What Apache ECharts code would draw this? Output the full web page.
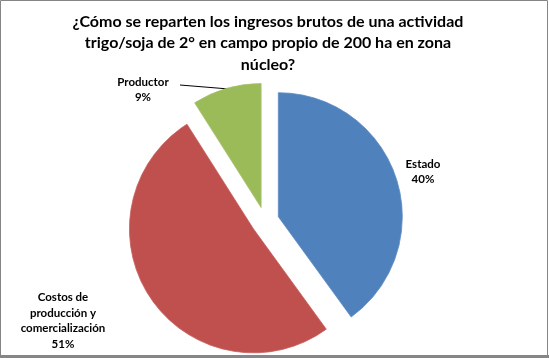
<!DOCTYPE html>
<html><head><meta charset="utf-8">
<script src="https://cdn.jsdelivr.net/npm/echarts@6/dist/echarts.min.js"></script>
<style>html,body{margin:0;padding:0;background:#fff}#c{width:549px;height:358px}</style>
</head><body><div id="c"></div>
<script>
const categories = ['Estado', 'Costos de producción y comercialización', 'Productor'];
const labelTexts = ['Estado', 'Costos de\nproducción y\ncomercialización', 'Productor'];
const values = [40, 51, 9];
const colors = ['#4F81BD', '#C0504D', '#9BBB59'];
const titleText = '¿Cómo se reparten los ingresos brutos de una actividad\ntrigo/soja de 2° en campo propio de 200 ha en zona\nnúcleo?';

const labelPos = [[423, 172], [63, 321], [143, 90]];
const labelFont = {fontFamily: 'Lato', fontWeight: 'bold', fontSize: 11.5, lineHeight: 15.5, fill: '#000', textAlign: 'center', textVerticalAlign: 'middle'};

const chart = echarts.init(document.getElementById('c'));
const graphics = [
  {type: 'rect', shape: {x: 0.5, y: 0.5, width: 547, height: 355}, style: {fill: 'none', stroke: '#858585', lineWidth: 1}, z: 100},
  {type: 'rect', shape: {x: 0, y: 355, width: 549, height: 3}, style: {fill: '#868686'}, z: 100},
  {type: 'text', x: 268, y: 43, style: {text: titleText, fontFamily: 'Lato', fontWeight: 'bold', fontSize: 16, lineHeight: 21.5, fill: '#000', textAlign: 'center', textVerticalAlign: 'middle'}},
  {type: 'polyline', shape: {points: [[180, 85], [229, 89]]}, style: {stroke: '#000', lineWidth: 1, fill: 'none'}}
];
values.forEach((v, i) => {
  graphics.push({type: 'text', x: labelPos[i][0], y: labelPos[i][1], style: Object.assign({text: labelTexts[i] + '\n' + v + '%'}, labelFont)});
});
chart.setOption({
  animation: false,
  graphic: graphics,
  series: [{
    type: 'pie',
    center: [265, 221],
    radius: 124,
    startAngle: 90,
    clockwise: true,
    selectedMode: 'multiple',
    selectedOffset: 14,
    emphasis: {disabled: true},
    label: {show: false},
    labelLine: {show: false},
    data: values.map((v, i) => ({
      name: categories[i], value: v, selected: true,
      itemStyle: {color: colors[i], borderColor: echarts.color.lift(colors[i], 0.1), borderWidth: 0.8}
    }))
  }]
});
</script></body></html>
